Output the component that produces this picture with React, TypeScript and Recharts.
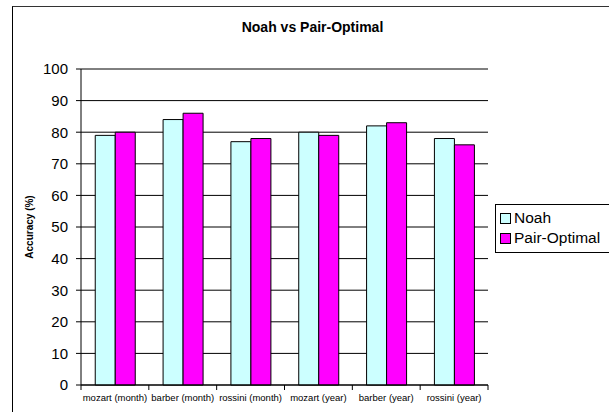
import React from "react";
import { BarChart, Bar, XAxis, YAxis, CartesianGrid, Legend, Label } from "recharts";

const categories = [
  "mozart (month)",
  "barber (month)",
  "rossini (month)",
  "mozart (year)",
  "barber (year)",
  "rossini (year)",
];
const noah = [79, 84, 77, 80, 82, 78];
const pairOptimal = [80, 86, 78, 79, 83, 76];
const yTicks = [0, 10, 20, 30, 40, 50, 60, 70, 80, 90, 100];

const data = categories.map((name, i) => ({
  name,
  noah: noah[i],
  pair: pairOptimal[i],
}));

const FONT = '"Liberation Sans", Arial, sans-serif';

// category label, with Excel-style tick marks on the band edges
const CatTick = (props: any) => {
  const { x, y, payload, index } = props;
  const half = payload && payload.offset ? payload.offset : 33.9;
  return (
    <g>
      <line x1={x - half} x2={x - half} y1={y} y2={y + 5} stroke="#000" />
      {index === categories.length - 1 && (
        <line x1={x + half} x2={x + half} y1={y} y2={y + 5} stroke="#000" />
      )}
      <text x={x} y={y + 16} textAnchor="middle" fontSize={9.5} fill="#000">
        {payload.value}
      </text>
    </g>
  );
};

const renderLegend = (props: any) => {
  const { payload } = props;
  return (
    <div
      style={{
        border: "1px solid #000",
        borderRight: "none",
        background: "#fff",
        padding: "3px 0 4px 4px",
        width: 130,
        fontFamily: FONT,
        fontSize: 15.5,
        color: "#000",
      }}
    >
      {(payload || []).map((entry: any) => (
        <div
          key={entry.value}
          style={{ display: "flex", alignItems: "center", height: 20 }}
        >
          <span
            style={{
              display: "inline-block",
              width: 9,
              height: 9,
              border: "1px solid #000",
              background: entry.color,
              marginRight: 3,
            }}
          />
          <span>{entry.value}</span>
        </div>
      ))}
    </div>
  );
};

export default function App() {
  return (
    <div
      style={{
        position: "absolute",
        left: 0,
        top: 0,
        width: 609,
        height: 412,
        overflow: "hidden",
        background: "#fff",
        fontFamily: FONT,
      }}
    >
      <div
        style={{
          position: "absolute",
          left: 12,
          top: 6,
          width: 700,
          height: 500,
          borderLeft: "1px solid #000",
          borderTop: "1px solid #333",
        }}
      />
      <div
        style={{
          position: "absolute",
          left: 0,
          top: 19,
          width: 625,
          textAlign: "center",
          fontSize: 14,
          lineHeight: "16px",
          fontWeight: "bold",
          color: "#000",
        }}
      >
        Noah vs Pair-Optimal
      </div>
      <BarChart
        width={609}
        height={412}
        data={data}
        margin={{ top: 69, right: 121, bottom: 0, left: 0 }}
        barCategoryGap="21%"
        barGap={0}
      >
        <CartesianGrid vertical={false} stroke="#000" />
        <XAxis
          dataKey="name"
          height={27}
          interval={0}
          tickLine={false}
          tickSize={0}
          tickMargin={0}
          axisLine={{ stroke: "#000" }}
          tick={<CatTick />}
        />
        <XAxis
          xAxisId="top"
          orientation="top"
          dataKey="name"
          height={0}
          tick={false}
          tickLine={false}
          axisLine={{ stroke: "#808080" }}
        />
        <YAxis
          domain={[0, 100]}
          ticks={yTicks}
          width={81}
          tickSize={5}
          tickMargin={8}
          tickLine={{ stroke: "#000" }}
          axisLine={{ stroke: "#000" }}
          tick={{ fill: "#000", fontSize: 15 }}
        >
          <Label
            value="Accuracy (%)"
            angle={-90}
            position="insideLeft"
            offset={29}
            style={{ textAnchor: "middle", fontSize: 10, fontWeight: "bold", fill: "#000" }}
          />
        </YAxis>
        <YAxis
          yAxisId="right"
          orientation="right"
          domain={[0, 100]}
          width={0}
          tick={false}
          tickLine={false}
          axisLine={{ stroke: "#808080" }}
        />
        <Legend
          layout="vertical"
          align="center"
          verticalAlign="middle"
          wrapperStyle={{ left: 495, top: 204, width: 130 }}
          content={renderLegend}
        />
        <Bar
          dataKey="noah"
          name="Noah"
          fill="#CCFFFF"
          stroke="#000"
          strokeWidth={1}
          isAnimationActive={false}
        />
        <Bar
          dataKey="pair"
          name="Pair-Optimal"
          fill="#FF00FF"
          stroke="#000"
          strokeWidth={1}
          isAnimationActive={false}
        />
      </BarChart>
    </div>
  );
}
